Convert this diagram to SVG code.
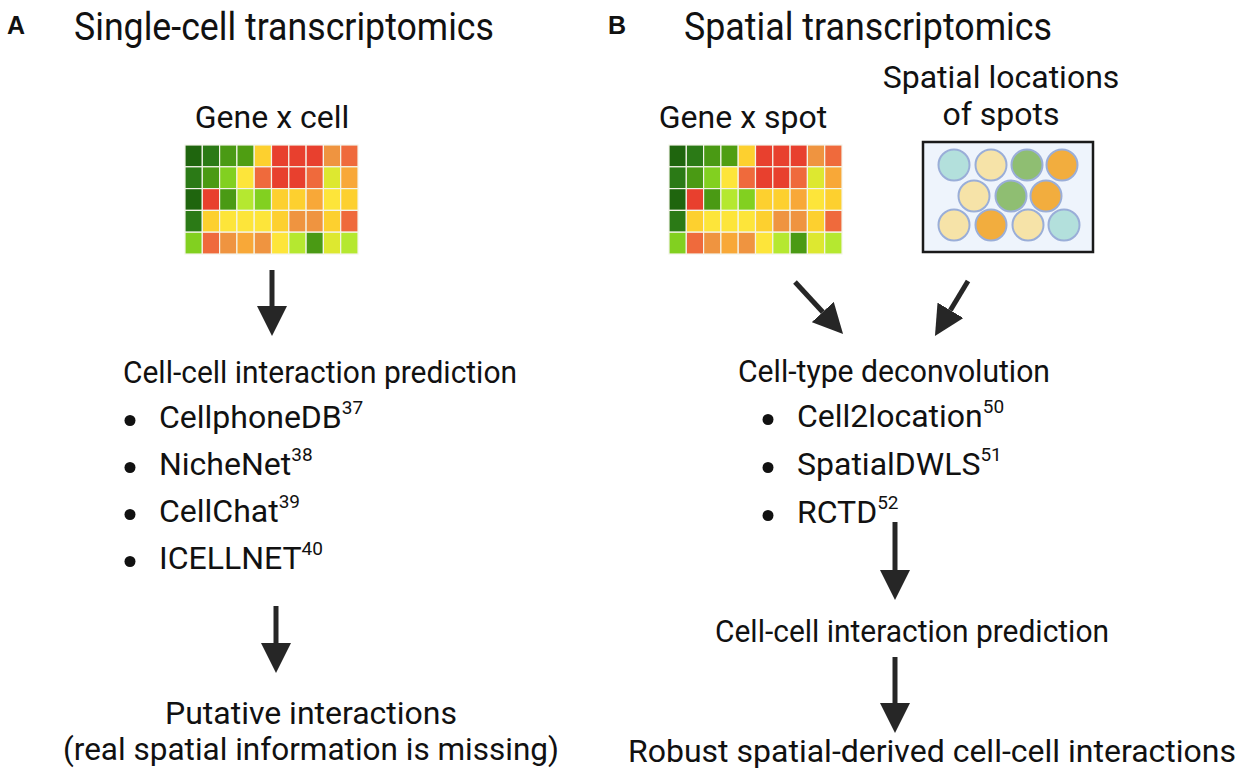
<svg xmlns="http://www.w3.org/2000/svg" width="1242" height="777" viewBox="0 0 1242 777">
<style>
text{font-family:Roboto,"Liberation Sans",sans-serif;fill:#111}
.lbl{font-family:"Liberation Sans",Arial,sans-serif;font-weight:bold;font-size:25px}
.ttl{font-size:38px}
.hd{font-size:32px}
.body{font-size:32px}
.it{font-size:32px}
.sup{font-size:19px}
.dot{fill:#111}
.c rect{stroke:#f4f4ea;stroke-width:1.2}
.DG1{fill:#1f650e}.DG2{fill:#2b7a16}.G{fill:#4a9a14}.G2{fill:#4f9e12}.LG{fill:#82d020}.YG{fill:#b5e830}.LY{fill:#dde830}.Y{fill:#fde53a}.YO{fill:#fdd02f}.O1{fill:#f8a838}.O2{fill:#ef9440}.OR{fill:#ef6a3c}.R{fill:#e8402e}
.spot{stroke:#9aaed8;stroke-width:2}
.teal{fill:#b3e0dc}.cream{fill:#f6e3a8}.green{fill:#8fbe72}.orange{fill:#f2ad3e}
.arr{stroke:#262626;stroke-width:5;fill:none;marker-end:url(#ah)}
</style>
<defs>
<marker id="ah" markerUnits="userSpaceOnUse" markerWidth="30" markerHeight="30" refX="0" refY="15" orient="auto" viewBox="0 0 30 30">
<path d="M0,0 L30,15 L0,30 Z" fill="#262626"/>
</marker>
<g id="heat" class="c">
<rect x="0" y="0" width="17.3" height="21.8" class="DG1"/><rect x="17.3" y="0" width="17.3" height="21.8" class="DG2"/><rect x="34.6" y="0" width="17.3" height="21.8" class="G"/><rect x="51.9" y="0" width="17.3" height="21.8" class="G2"/><rect x="69.2" y="0" width="17.3" height="21.8" class="YO"/><rect x="86.5" y="0" width="17.3" height="21.8" class="R"/><rect x="103.8" y="0" width="17.3" height="21.8" class="R"/><rect x="121.1" y="0" width="17.3" height="21.8" class="R"/><rect x="138.4" y="0" width="17.3" height="21.8" class="O2"/><rect x="155.7" y="0" width="17.3" height="21.8" class="OR"/>
<rect x="0" y="21.8" width="17.3" height="21.8" class="DG2"/><rect x="17.3" y="21.8" width="17.3" height="21.8" class="G"/><rect x="34.6" y="21.8" width="17.3" height="21.8" class="LG"/><rect x="51.9" y="21.8" width="17.3" height="21.8" class="Y"/><rect x="69.2" y="21.8" width="17.3" height="21.8" class="OR"/><rect x="86.5" y="21.8" width="17.3" height="21.8" class="R"/><rect x="103.8" y="21.8" width="17.3" height="21.8" class="R"/><rect x="121.1" y="21.8" width="17.3" height="21.8" class="OR"/><rect x="138.4" y="21.8" width="17.3" height="21.8" class="LY"/><rect x="155.7" y="21.8" width="17.3" height="21.8" class="O1"/>
<rect x="0" y="43.6" width="17.3" height="21.8" class="DG1"/><rect x="17.3" y="43.6" width="17.3" height="21.8" class="R"/><rect x="34.6" y="43.6" width="17.3" height="21.8" class="G"/><rect x="51.9" y="43.6" width="17.3" height="21.8" class="YG"/><rect x="69.2" y="43.6" width="17.3" height="21.8" class="LG"/><rect x="86.5" y="43.6" width="17.3" height="21.8" class="YO"/><rect x="103.8" y="43.6" width="17.3" height="21.8" class="YO"/><rect x="121.1" y="43.6" width="17.3" height="21.8" class="O1"/><rect x="138.4" y="43.6" width="17.3" height="21.8" class="Y"/><rect x="155.7" y="43.6" width="17.3" height="21.8" class="YO"/>
<rect x="0" y="65.4" width="17.3" height="21.8" class="DG2"/><rect x="17.3" y="65.4" width="17.3" height="21.8" class="YO"/><rect x="34.6" y="65.4" width="17.3" height="21.8" class="Y"/><rect x="51.9" y="65.4" width="17.3" height="21.8" class="Y"/><rect x="69.2" y="65.4" width="17.3" height="21.8" class="Y"/><rect x="86.5" y="65.4" width="17.3" height="21.8" class="YO"/><rect x="103.8" y="65.4" width="17.3" height="21.8" class="O2"/><rect x="121.1" y="65.4" width="17.3" height="21.8" class="O2"/><rect x="138.4" y="65.4" width="17.3" height="21.8" class="YO"/><rect x="155.7" y="65.4" width="17.3" height="21.8" class="OR"/>
<rect x="0" y="87.2" width="17.3" height="21.8" class="LG"/><rect x="17.3" y="87.2" width="17.3" height="21.8" class="OR"/><rect x="34.6" y="87.2" width="17.3" height="21.8" class="O2"/><rect x="51.9" y="87.2" width="17.3" height="21.8" class="O1"/><rect x="69.2" y="87.2" width="17.3" height="21.8" class="O2"/><rect x="86.5" y="87.2" width="17.3" height="21.8" class="Y"/><rect x="103.8" y="87.2" width="17.3" height="21.8" class="YG"/><rect x="121.1" y="87.2" width="17.3" height="21.8" class="G"/><rect x="138.4" y="87.2" width="17.3" height="21.8" class="LY"/><rect x="155.7" y="87.2" width="17.3" height="21.8" class="YG"/>
</g>
</defs>
<rect width="1242" height="777" fill="#ffffff"/>

<g id="panelA-title">
<text class="lbl" x="7" y="34">A</text>
<text class="ttl" x="74" y="40" textLength="420" lengthAdjust="spacingAndGlyphs">Single-cell transcriptomics</text>
</g>
<g id="panelB-title">
<text class="lbl" x="608" y="34">B</text>
<text class="ttl" x="684" y="40" textLength="368" lengthAdjust="spacingAndGlyphs">Spatial transcriptomics</text>
</g>

<g id="gene-cell">
<text class="hd" x="272" y="128" text-anchor="middle">Gene x cell</text>
<use href="#heat" x="185" y="145"/>
</g>

<g id="cci-A">
<text class="body" x="123" y="383" textLength="394" lengthAdjust="spacingAndGlyphs">Cell-cell interaction prediction</text>
<circle class="dot" cx="130" cy="420.5" r="5.5"/>
<text class="it" x="159" y="428">CellphoneDB<tspan class="sup" dy="-14">37</tspan></text>
<circle class="dot" cx="130" cy="467.5" r="5.5"/>
<text class="it" x="159" y="475">NicheNet<tspan class="sup" dy="-14">38</tspan></text>
<circle class="dot" cx="130" cy="514.5" r="5.5"/>
<text class="it" x="159" y="522">CellChat<tspan class="sup" dy="-14">39</tspan></text>
<circle class="dot" cx="130" cy="561.5" r="5.5"/>
<text class="it" x="159" y="569">ICELLNET<tspan class="sup" dy="-14">40</tspan></text>
</g>

<g id="putative">
<text class="body" x="311" y="724" text-anchor="middle" textLength="292" lengthAdjust="spacingAndGlyphs">Putative interactions</text>
<text class="body" x="311" y="760" text-anchor="middle" textLength="496" lengthAdjust="spacingAndGlyphs">(real spatial information is missing)</text>
</g>

<g id="gene-spot">
<text class="hd" x="743" y="128" text-anchor="middle">Gene x spot</text>
<use href="#heat" x="669" y="145"/>
</g>

<g id="spatial-locations">
<text class="hd" x="1001" y="88" text-anchor="middle">Spatial locations</text>
<text class="hd" x="1001" y="125" text-anchor="middle">of spots</text>
<rect x="923" y="142" width="170" height="110" fill="#eef4fc" stroke="#1a1a1a" stroke-width="2.5"/>
<circle class="spot teal" cx="954" cy="165" r="15.5"/>
<circle class="spot cream" cx="991" cy="165" r="15.5"/>
<circle class="spot green" cx="1027" cy="165" r="15.5"/>
<circle class="spot orange" cx="1062" cy="165" r="15.5"/>
<circle class="spot cream" cx="974" cy="196" r="15.5"/>
<circle class="spot green" cx="1011" cy="196" r="15.5"/>
<circle class="spot orange" cx="1046" cy="196" r="15.5"/>
<circle class="spot cream" cx="954" cy="225" r="15.5"/>
<circle class="spot orange" cx="991" cy="225" r="15.5"/>
<circle class="spot cream" cx="1028" cy="225" r="15.5"/>
<circle class="spot teal" cx="1064" cy="225" r="15.5"/>
</g>

<g id="deconvolution">
<text class="body" x="738" y="382" textLength="312" lengthAdjust="spacingAndGlyphs">Cell-type deconvolution</text>
<circle class="dot" cx="768" cy="419.5" r="5.5"/>
<text class="it" x="797" y="427">Cell2location<tspan class="sup" dy="-14">50</tspan></text>
<circle class="dot" cx="768" cy="467.5" r="5.5"/>
<text class="it" x="797" y="475">SpatialDWLS<tspan class="sup" dy="-14">51</tspan></text>
<circle class="dot" cx="768" cy="515.5" r="5.5"/>
<text class="it" x="797" y="523">RCTD<tspan class="sup" dy="-14">52</tspan></text>
</g>

<g id="cci-B">
<text class="body" x="715" y="642" textLength="394" lengthAdjust="spacingAndGlyphs">Cell-cell interaction prediction</text>
</g>

<g id="robust">
<text class="body" x="628" y="762" textLength="608" lengthAdjust="spacingAndGlyphs">Robust spatial-derived cell-cell interactions</text>
</g>

<g id="connectors">
<line class="arr" x1="272" y1="270" x2="272" y2="306"/>
<line class="arr" x1="276" y1="606" x2="276" y2="643"/>
<line class="arr" x1="795" y1="282" x2="822.7" y2="312"/>
<line class="arr" x1="968" y1="281" x2="950.4" y2="310.3"/>
<line class="arr" x1="895" y1="522" x2="895" y2="570"/>
<line class="arr" x1="895" y1="657" x2="895" y2="703"/>
</g>
</svg>
